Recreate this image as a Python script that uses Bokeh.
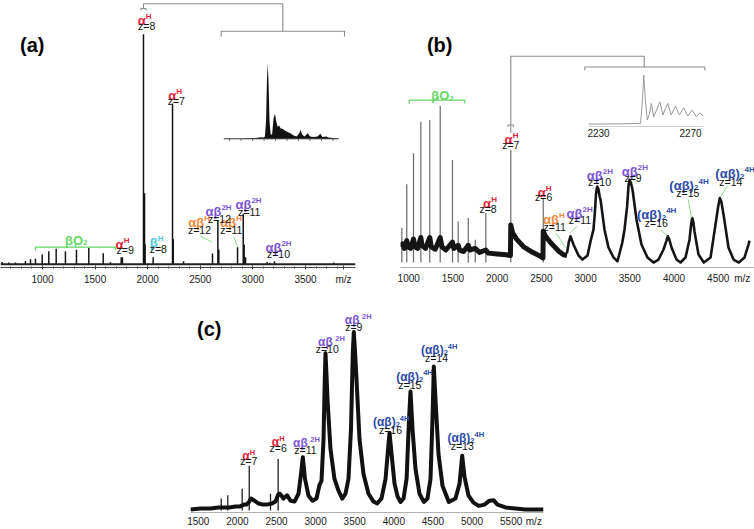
from bokeh.plotting import figure
from bokeh.models import Range1d, FixedTicker, Span, Spacer, ColumnDataSource
from bokeh.layouts import column, row
from bokeh.core.properties import value
from bokeh.embed import file_html
from bokeh.resources import INLINE

FONT = "Liberation Sans"

# ---------------- data ----------------
# (a) centroided spectrum: m/z and relative intensity
a_mz = [617, 680, 743, 838, 886, 933, 997, 1060, 1130, 1218, 1323, 1440, 1577, 1646,
        1748, 1760, 1960, 1970, 1975, 2052, 2236, 2243, 2341, 2616, 2667, 2676, 2854,
        2908, 2917, 2930, 3136, 3160, 3205, 3430, 3769]
a_int = [1.2, 1.0, 1.0, 1.6, 2.2, 2.4, 4.1, 5.4, 6.3, 5.4, 5.9, 6.7, 4.6, 1.1,
         3.0, 3.0, 90.0, 28.0, 8.0, 3.0, 63.0, 10.0, 1.5, 4.5, 17.3, 6.0, 6.9,
         20.0, 8.0, 3.0, 1.2, 0.9, 1.5, 0.5, 1.0]
a_ticks = [1000, 1500, 2000, 2500, 3000, 3500]
# (a) inset
a_ins_mz = [1950, 1955.8, 1961.0, 1962.8, 1963.8, 1964.3, 1964.7, 1965.0, 1965.3, 1965.6,
            1965.9, 1966.3, 1966.8, 1967.3, 1967.8, 1968.2, 1968.7, 1969.2, 1969.8, 1970.4,
            1971.2, 1972.2, 1973.3, 1974.3, 1975.3, 1976.2, 1976.7, 1977.2, 1978.1, 1979.2,
            1980.0, 1981.2, 1982.6, 1983.6, 1984.3, 1985.6, 1986.4, 1988.1, 1990]
a_ins_int = [0, 0, 1, 2.1, 1.7, 3, 24, 77, 100, 70,
             24, 5.7, 5.7, 27, 33, 24, 16, 17.6, 13.6, 13.2,
             11, 9, 7, 4.4, 3, 7, 11.9, 5.7, 3, 7.4,
             3, 2.4, 3, 6.6, 2.4, 3, 1.7, 1, 0]
a_ins_ticks = [1952, 1956, 1960, 1964, 1968, 1972, 1976, 1980, 1984, 1988]

# (b) noisy low-m/z baseline trace
b_base_mz = [913, 930, 950, 978, 990, 1020, 1054, 1070, 1100, 1137, 1150, 1190, 1238,
             1255, 1300, 1356, 1375, 1420, 1495, 1510, 1559, 1575, 1620, 1673, 1690,
             1752, 1800, 1872, 1900, 2000, 2100, 2150, 2154, 2175, 2220, 2300, 2400,
             2490, 2518, 2521, 2545, 2600, 2650, 2700, 2750, 2790]
b_base_int = [10, 12, 9, 14, 10, 9, 15, 10, 9, 16, 11, 9, 16,
              10, 8.5, 16, 10, 8, 13, 9, 11, 8, 7, 11, 8,
              9, 6.5, 8, 6, 5.5, 5, 4.5, 24, 19, 15, 10, 6.5,
              4, 3, 20, 17, 13, 10, 7, 5, 4.5]
# (b) narrow spikes
b_spk_mz = [922, 978, 1054, 1137, 1238, 1356, 1495, 1559, 1673, 1752, 1872, 2154, 2521]
b_spk_int = [22.3, 50.1, 69.9, 90.0, 91.1, 100, 65.6, 26.3, 28.5, 14.6, 31.7, 72.0, 41.2]
# (b) broad high-m/z profile
b_mz = [2790, 2810, 2829, 2863, 2920, 2965, 3022, 3056, 3089, 3105, 3118, 3131, 3145,
        3160, 3169, 3214, 3259, 3316, 3361, 3395, 3414, 3440, 3470, 3485, 3497, 3512,
        3531, 3576, 3632, 3700, 3768, 3825, 3881, 3915, 3930, 3945, 3972, 4028, 4073,
        4130, 4175, 4195, 4206, 4218, 4232, 4277, 4337, 4413, 4469, 4500, 4518, 4535,
        4560, 4616, 4673, 4733, 4797, 4842, 4854]
b_int = [6, 13, 16.8, 11.5, 4.5, 1.9, 4.5, 13.6, 21.0, 32, 44, 48.6, 47,
         42, 40.1, 21.0, 9.6, 3.2, 0.8, 8.3, 12.5, 21.0, 36, 49, 52.9, 51,
         46.5, 27.4, 11.5, 3.2, 0, 1.9, 8.3, 14, 16.8, 15, 9.6, 1.9, 0,
         3.2, 14.6, 25, 28.5, 26, 19.7, 5.1, 0, 3.2, 24.2, 36, 41.2, 39,
         30.6, 9.6, 1.9, 0, 3.2, 11.5, 14.0]
b_ticks = [1000, 1500, 2000, 2500, 3000, 3500, 4000, 4500]
# (b) inset
b_ins_mz = [2225.7, 2230.9, 2239.6, 2248.3, 2249.1, 2249.7, 2250.4, 2251.2, 2252.2, 2253.0,
            2254.0, 2255.2, 2256.7, 2258.0, 2259.1, 2260.1, 2261.6, 2263.5, 2265.2, 2267.1,
            2268.8, 2270.7, 2272.5, 2274.0, 2275.5]
b_ins_int = [0, 0, 0.4, 1.4, 49, 100, 49, 8.2, 22.0, 42.2,
             14.9, 28.6, 45.3, 18.4, 32.0, 42.2, 18.4, 36.7, 18.4, 33.4,
             16.3, 28.6, 14.9, 23.1, 16.3]
b_ins_ticks = [2230, 2270]

# (c) broad profile
c_mz = [1400, 1528, 1656, 1758, 1848, 1899, 1975, 2027, 2084, 2116, 2151, 2174, 2218,
        2270, 2321, 2372, 2442, 2487, 2521, 2544, 2589, 2636, 2679, 2730, 2781, 2813,
        2836, 2864, 2909, 2960, 3011, 3050, 3075, 3101, 3115, 3126, 3140, 3152, 3190,
        3241, 3292, 3340, 3382, 3420, 3452, 3475, 3488, 3505, 3523, 3561, 3612, 3676,
        3740, 3787, 3842, 3894, 3926, 3945, 3971, 4009, 4048, 4086, 4124, 4163, 4194,
        4213, 4239, 4277, 4328, 4383, 4430, 4469, 4494, 4511, 4533, 4571, 4622, 4703,
        4788, 4840, 4874, 4903, 4955, 5018, 5086, 5159, 5223, 5278, 5325, 5428, 5556,
        5684, 5812, 5914]
c_int = [0.6, 1.1, 1.1, 1.7, 1.7, 1.7, 2.2, 2.2, 3.3, 3.3, 5, 6.7, 5.5,
         3.9, 3.3, 3.3, 3.9, 5.0, 9, 9.4, 6.7, 8.5, 5.5, 5.0, 9.4, 20.5,
         29.8, 17.7, 8.3, 5.5, 6.7, 14.4, 16.6, 39.9, 70, 88.0, 75, 62.1, 34.4,
         17.7, 11.1, 6.7, 9.4, 17.7, 45.5, 88, 100, 88, 73.2, 39.9, 20.5, 9.4,
         5.0, 3.9, 6.7, 17.7, 34.4, 43.6, 31.6, 15.0, 7.8, 4.8, 6.7, 17.7, 51.0,
         66.7, 45.5, 23.3, 9.4, 4.8, 6.7, 17.7, 51.0, 80.6, 62.1, 31.6, 13.9, 4.8,
         6.7, 15.0, 30.7, 18.9, 8.3, 4.4, 2.6, 3.3, 5.5, 5.7, 3.3, 1.7, 1.1,
         0.6, 0.6, 0.6]
# (c) narrow spikes
c_spk_mz = [1793, 1877, 2061, 2151, 2423, 2521]
c_spk_int = [6.7, 8.5, 12.2, 25.1, 9.4, 28.8]
c_ticks = [1500, 2000, 2500, 3000, 3500, 4000, 4500, 5000, 5500]

# ---------------- styles ----------------
RED, CYAN, ORANGE = "#e3203a", "#4cc9dc", "#f08a3c"
VIOLET, BLUE, GREEN = "#7b55d6", "#2c4ba8", "#66d866"
GRAY = "#8a8a8a"


def lin(p0, v0, p1, v1):
    k = (v1 - v0) / (p1 - p0)
    return lambda p: v0 + (p - p0) * k


# panel geometry: reference pixel <-> data
mzA = lin(42, 1000, 305, 3500)
IA = lin(264.5, 0, 8, 100)
mzB = lin(319.8 + 0.08843 * 1000, 1000, 319.8 + 0.08843 * 4500, 4500)
IB = lin(263, 0, 106, 100)
mzC = lin(80.5 + 0.07821 * 1500, 1500, 80.5 + 0.07821 * 5500, 5500)
IC = lin(512, 0, 331.7, 100)

CW = {'α': 0.62, 'β': 0.61, '(': 0.333, ')': 0.333, 'H': 0.722, '2': 0.556,
      '4': 0.556, 'O': 0.778}


def tw(s, fs):
    return sum(CW.get(ch, 0.56) for ch in s) * fs


def composite(p, X, Y, main, sub, sup, color, fs, fss, base_off, gap=0.0):
    """main text (bold) with optional subscript and superscript; base_off is the
    pixel offset of the main baseline from the anchor (negative = up)."""
    wm, ws, wp = tw(main, fs), tw(sub, fss), tw(sup, fss)
    x0 = -(wm + ws + gap + wp) / 2
    common = dict(text_font=value(FONT), text_font_style="bold", text_color=color,
                  text_align="left", text_baseline="alphabetic")
    p.text(x=[X], y=[Y], text=[main], x_offset=x0, y_offset=base_off,
           text_font_size=f"{fs}px", **common)
    if sub:
        p.text(x=[X], y=[Y], text=[sub], x_offset=x0 + wm, y_offset=base_off + 0.2 * fs,
               text_font_size=f"{fss}px", **common)
    if sup:
        p.text(x=[X], y=[Y], text=[sup], x_offset=x0 + wm + ws + gap,
               y_offset=base_off - 0.31 * fs, text_font_size=f"{fss}px", **common)


def ion_labels(p, conv, items, fs, fss, zfs, gap_2h=0.0):
    for main, sub, sup, col, cx, zt, zx, zy in items:
        if "(" in main:
            off = -8.0
        elif "β" in main:
            off = -7.0
        else:
            off = -5.2
        composite(p, conv[0](cx), conv[1](zy), main, sub, sup, col, fs, fss, off,
                  gap=gap_2h if sup == "2H" else 0.0)
    src = ColumnDataSource(dict(x=[conv[0](i[6]) for i in items],
                                y=[conv[1](i[7]) for i in items],
                                t=[i[5] for i in items]))
    p.text(x="x", y="y", text="t", source=src, text_font=value(FONT),
           text_font_size=f"{zfs}px", text_color="#111", text_align="center",
           text_baseline="middle")


def polylines(p, conv, lines, color, width):
    xs = [[conv[0](pt[0]) for pt in ln] for ln in lines]
    ys = [[conv[1](pt[1]) for pt in ln] for ln in lines]
    p.multi_line(xs=xs, ys=ys, line_color=color, line_width=width)


def panel_letter(p, conv, txt, px, py):
    p.text(x=[conv[0](px)], y=[conv[1](py)], text=[txt], text_font=value(FONT),
           text_font_size="20px", text_font_style="bold", text_color="#000",
           text_align="center", text_baseline="middle")


def base_fig(w, h, xr, yr, bl, br, bt, bb):
    p = figure(width=w, height=h, x_range=xr, y_range=yr, output_backend="svg",
               toolbar_location=None, y_axis_location=None, title=None,
               min_border_left=bl, min_border_right=br, min_border_top=bt,
               min_border_bottom=bb)
    p.xgrid.visible = False
    p.ygrid.visible = False
    p.outline_line_color = None
    p.background_fill_color = "white"
    p.border_fill_color = "white"
    ax = p.xaxis[0]
    ax.major_label_text_font = FONT
    ax.major_label_text_font_size = "10px"
    ax.major_label_text_color = "#222"
    return p


def style_ticks(ax, ticks, mzpos, minor=None):
    ax.ticker = FixedTicker(ticks=ticks + [mzpos], minor_ticks=minor or [])
    ax.major_label_overrides = {mzpos: "m/z"}


# ================= panel (a) =================
pa = base_fig(377, 290, Range1d(mzA(0), mzA(355)), Range1d(IA(267), IA(0)), 0, 22, 0, 23)
axa = pa.xaxis[0]
style_ticks(axa, a_ticks, round(mzA(343)), list(range(700, 3900, 100)))
axa.axis_line_color = "#444"
axa.major_tick_line_color = "#444"
axa.minor_tick_line_color = "#444"
axa.major_tick_in, axa.major_tick_out = 2, 2
axa.minor_tick_in, axa.minor_tick_out = 1, 1
axa.major_label_standoff = 4

pa.add_layout(Span(location=0.3, dimension="width", line_color="#222", line_width=2))
pa.vbar(x=a_mz, top=a_int, bottom=0, width=14, fill_color="#111", line_color=None)

# inset (a)
ia_x = lin(223.3, 1950, 338.3, 1990)
ia_y = lin(138.3, 0, 62.7, 100)
pa.extra_x_ranges = {"ins": Range1d(ia_x(0), ia_x(355))}
pa.extra_y_ranges = {"ins": Range1d(ia_y(267), ia_y(0))}
pa.varea(x=a_ins_mz, y1=0, y2=a_ins_int, fill_color="#111",
         x_range_name="ins", y_range_name="ins")
pa.segment(x0=[a_ins_mz[0]], y0=[0], x1=[a_ins_mz[-1]], y1=[0], line_color="#333",
           line_width=1, x_range_name="ins", y_range_name="ins")
pa.segment(x0=a_ins_ticks, y0=0, x1=a_ins_ticks, y1=-3, line_color="#555",
           line_width=0.8, x_range_name="ins", y_range_name="ins")

cA = (mzA, IA)
polylines(pa, cA, [[(143, 8), (143, 3.3), (282.3, 3.3), (282.3, 30.7)],
                   [(220.7, 36), (220.7, 30.7), (344, 30.7), (344, 36)],
                   [(140.5, 10), (140.5, 8), (145.5, 8), (145.5, 10)]], GRAY, 1.1)
polylines(pa, cA, [[(35, 250), (35, 246.7), (115, 246.7), (115, 250)],
                   [(75, 246.7), (75, 243)]], GREEN, 1.3)
polylines(pa, cA, [[(199.3, 235), (211.7, 241.7)], [(233.3, 236.7), (237.3, 246.7)]],
          GREEN, 0.8)

ion_labels(pa, cA, [
    ("α", "", "H", RED, 144.2, "z=8", 146.2, 25),
    ("α", "", "H", RED, 174.7, "z=7", 175.8, 100),
    ("α", "", "H", RED, 122, "z=9", 124.7, 249.5),
    ("β", "", "H", CYAN, 156.2, "z=8", 157.8, 248.7),
    ("αβ", "", "H", ORANGE, 198.7, "z=12", 199, 229.2),
    ("αβ", "", "2H", VIOLET, 218, "z=12", 219, 218),
    ("αβ", "", "H", ORANGE, 230.7, "z=11", 230.8, 229.2),
    ("αβ", "", "2H", VIOLET, 248, "z=11", 248.7, 211.3),
    ("αβ", "", "2H", VIOLET, 278, "z=10", 278, 253.8)], 13, 8, 10.5)
composite(pa, mzA(75.8), IA(235), "βO", "2", "", GREEN, 13, 8, 4.5)
panel_letter(pa, cA, "(a)", 31.7, 44.2)

# ================= panel (b) =================
pb = base_fig(377, 290, Range1d(mzB(400), mzB(754)), Range1d(IB(268), IB(0)), 23, 0, 0, 22)
axb = pb.xaxis[0]
style_ticks(axb, b_ticks, round(mzB(741.7)))
axb.axis_line_color = "#b0b0b0"
axb.major_tick_in = axb.major_tick_out = 0
axb.minor_tick_in = axb.minor_tick_out = 0
axb.major_label_standoff = 5

pb.segment(x0=b_spk_mz, y0=0, x1=b_spk_mz, y1=b_spk_int, line_color="#6a6a6a",
           line_width=1.2)
pb.line(x=b_base_mz, y=b_base_int, line_color="#151515", line_width=5, line_join="round")
pb.line(x=b_mz, y=b_int, line_color="#151515", line_width=2.6, line_join="round")

ib_x = lin(598, 2230, 690, 2270)
ib_y = lin(124, 0, 75, 100)
pb.extra_x_ranges = {"ins": Range1d(ib_x(400), ib_x(754))}
pb.extra_y_ranges = {"ins": Range1d(ib_y(268), ib_y(0))}
pb.line(x=b_ins_mz, y=b_ins_int, line_color="#9a9a9a", line_width=1,
        x_range_name="ins", y_range_name="ins")
pb.segment(x0=[b_ins_mz[0]], y0=[ib_y(126.5)], x1=[b_ins_mz[-1]], y1=[ib_y(126.5)],
           line_color="#d0d0d0", line_width=1, x_range_name="ins", y_range_name="ins")
pb.text(x=b_ins_ticks, y=[ib_y(133.3)] * len(b_ins_ticks),
        text=[str(t) for t in b_ins_ticks], text_font=value(FONT), text_font_size="10px",
        text_color="#222", text_align="center", text_baseline="middle",
        x_range_name="ins", y_range_name="ins")

cB = (mzB, IB)
polylines(pb, cB, [[(510.3, 133), (510.3, 56), (643.7, 56), (643.7, 66.7)],
                   [(584.3, 70), (584.3, 66.7), (704.3, 66.7), (704.3, 70)],
                   [(507.5, 127), (507.5, 125), (513, 125), (513, 127)]], GRAY, 1.1)
polylines(pb, cB, [[(408.7, 103.3), (408.7, 100), (464.3, 100), (464.3, 103.3)],
                   [(436.3, 100), (436.3, 96.7)]], GREEN, 1.3)
polylines(pb, cB, [[(555.3, 233.3), (565.3, 248.3)], [(576.3, 226.7), (569.7, 233.3)],
                   [(660.3, 230), (667, 236.7)], [(687.7, 199.3), (691, 218.3)],
                   [(727, 186), (720.3, 196.7)]], GREEN, 0.8)

ion_labels(pb, cB, [
    ("α", "", "H", RED, 489.5, "z=8", 487.5, 209.2),
    ("α", "", "H", RED, 511, "z=7", 510.3, 144.7),
    ("α", "", "H", RED, 544.2, "z=6", 543.2, 197.5),
    ("αβ", "", "H", ORANGE, 553.3, "z=11", 554.2, 227.2),
    ("αβ", "", "2H", VIOLET, 579.2, "z=11", 579.5, 220.5),
    ("αβ", "", "2H", VIOLET, 599.3, "z=10", 599, 182.5),
    ("αβ", "", "2H", VIOLET, 634.3, "z=9", 632.5, 178.3),
    ("(αβ)", "2", "4H", BLUE, 656.2, "z=16", 655.8, 223.3),
    ("(αβ)", "2", "4H", BLUE, 688.5, "z=15", 687.3, 193.3),
    ("(αβ)", "2", "4H", BLUE, 734.5, "z=14", 730.3, 181.7)], 13, 8, 10.5)
composite(pb, mzB(442), IB(90.8), "βO", "2", "", GREEN, 13, 8, 4.5)
panel_letter(pb, cB, "(b)", 439.2, 44.2)

# ================= panel (c) =================
pc = base_fig(410, 239, Range1d(mzC(190), mzC(543)), Range1d(IC(514), IC(300)), 40, 17, 10, 15)
axc = pc.xaxis[0]
style_ticks(axc, c_ticks, round(mzC(533.3)))
axc.axis_line_color = "#b0b0b0"
axc.major_tick_in = axc.major_tick_out = 0
axc.minor_tick_in = axc.minor_tick_out = 0
axc.major_label_standoff = 3

pc.segment(x0=c_spk_mz, y0=0, x1=c_spk_mz, y1=c_spk_int, line_color="#222", line_width=1.3)
pc.line(x=c_mz, y=c_int, line_color="#111", line_width=4, line_join="round")

cC = (mzC, IC)
ion_labels(pc, cC, [
    ("α", "", "H", RED, 248.3, "z=7", 248.3, 462),
    ("α", "", "H", RED, 277.7, "z=6", 277.7, 448.5),
    ("αβ", "", "2H", VIOLET, 306, "z=11", 305, 451),
    ("αβ", "", "2H", VIOLET, 331, "z=10", 326.7, 349.3),
    ("αβ", "", "2H", VIOLET, 357.7, "z=9", 353.3, 326.7),
    ("(αβ)", "2", "4H", BLUE, 390.7, "z=16", 390, 430.7),
    ("(αβ)", "2", "4H", BLUE, 414, "z=15", 409.3, 385),
    ("(αβ)", "2", "4H", BLUE, 438.7, "z=14", 436, 358.3),
    ("(αβ)", "2", "4H", BLUE, 465.3, "z=13", 461.7, 447.3)], 12, 7.5, 10.5, gap_2h=2.5)
panel_letter(pc, cC, "(c)", 208.8, 329.2)

root = column(row(pa, pb), row(Spacer(width=150, height=239), pc))

open("out.html", "w").write(file_html(root, INLINE))
